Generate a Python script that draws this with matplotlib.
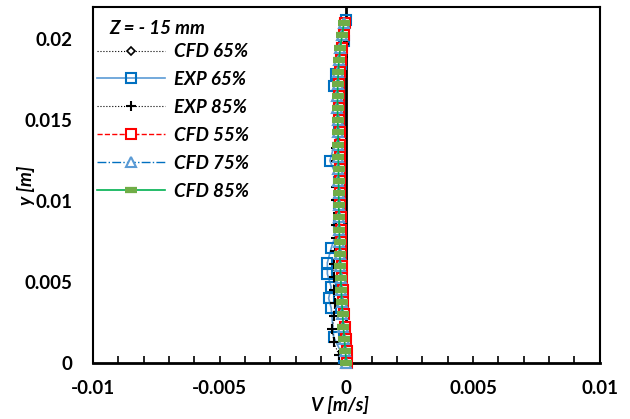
import matplotlib
matplotlib.use("Agg")
import matplotlib.pyplot as plt
from matplotlib.ticker import MultipleLocator, FixedLocator

# ---- data ----
y_cfd = [0.0, 0.00075, 0.0015, 0.00225, 0.003, 0.00375, 0.0045, 0.00525, 0.006, 0.00675,
         0.0075, 0.00825, 0.009, 0.00975, 0.0105, 0.01125, 0.012, 0.01275, 0.0135, 0.01425,
         0.015, 0.01575, 0.0165, 0.01725, 0.018, 0.01875, 0.0195, 0.02025, 0.021]
v_cfd65 = [0.0, -0.00004, -0.00008, -0.00012, -0.00015, -0.00018, -0.0002, -0.00022, -0.00024, -0.00026,
           -0.00027, -0.00028, -0.00029, -0.0003, -0.0003, -0.00031, -0.00031, -0.00032, -0.00032, -0.00033,
           -0.00034, -0.00035, -0.00035, -0.00034, -0.00032, -0.00029, -0.00024, -0.00017, -0.0001]
v_cfd55 = [0.00004, 0.00002, -0.00002, -0.00006, -0.00009, -0.00012, -0.00014, -0.00016, -0.00018, -0.0002,
           -0.00021, -0.00022, -0.00023, -0.00024, -0.00024, -0.00025, -0.00025, -0.00026, -0.00026, -0.00027,
           -0.00028, -0.00029, -0.00029, -0.00028, -0.00026, -0.00023, -0.00018, -0.00011, -0.00004]
v_cfd75 = [0.0, -0.00005, -0.00009, -0.00013, -0.00016, -0.00019, -0.00021, -0.00023, -0.00025, -0.00027,
           -0.00028, -0.00029, -0.0003, -0.00031, -0.00031, -0.00032, -0.00032, -0.00033, -0.00033, -0.00034,
           -0.00035, -0.00036, -0.00036, -0.00035, -0.00033, -0.0003, -0.00025, -0.00018, -0.00011]
v_cfd85 = [0.0, -0.00004, -0.00008, -0.00012, -0.00015, -0.00018, -0.0002, -0.00022, -0.00024, -0.00026,
           -0.00027, -0.00028, -0.00029, -0.0003, -0.0003, -0.00031, -0.00031, -0.00032, -0.00032, -0.00033,
           -0.00034, -0.00035, -0.00035, -0.00034, -0.00032, -0.00029, -0.00024, -0.00017, -0.0001]

y_exp65 = [0.0003, 0.0016, 0.0034, 0.0040, 0.0047, 0.0055, 0.0062, 0.0071, 0.0085, 0.0099,
           0.0112, 0.0125, 0.0145, 0.0158, 0.0171, 0.01785, 0.0185, 0.0199, 0.0212]
v_exp65 = [-0.0001, -0.0005, -0.0006, -0.0007, -0.0006, -0.00075, -0.00075, -0.0006, -0.0003, -0.0003,
           -0.0003, -0.00065, -0.0003, -0.0003, -0.0005, -0.0004, -0.0002, -0.0001, 0.0]

y_exp85 = [0.0005, 0.0013, 0.0021, 0.0029, 0.0037, 0.0045, 0.0053, 0.0061, 0.0069, 0.0077,
           0.0085, 0.0093, 0.0101, 0.0109, 0.0117, 0.0125, 0.0133, 0.0141, 0.0149, 0.0157,
           0.0165, 0.0173, 0.0181, 0.0189, 0.0197, 0.0205]
v_exp85 = [-0.0003, -0.0005, -0.00055, -0.0005, -0.00045, -0.0005, -0.0005, -0.0005, -0.00045, -0.0004,
           -0.0004, -0.00035, -0.0004, -0.0004, -0.00035, -0.0004, -0.0004, -0.00035, -0.0003, -0.0003,
           -0.00025, -0.00025, -0.0002, -0.00015, -0.0001, -0.00005]

x_ticks = [-0.01, -0.005, 0, 0.005, 0.01]
x_tick_labels = ["-0.01", "-0.005", "0", "0.005", "0.01"]
y_ticks = [0, 0.005, 0.01, 0.015, 0.02]
y_tick_labels = ["0", "0.005", "0.01", "0.015", "0.02"]

# ---- plot ----
FONT = "Lato"
FS = 13.5
plt.rcParams['font.family'] = [FONT, 'DejaVu Sans']

fig = plt.figure(figsize=(6.30, 4.19), dpi=100)
ax = fig.add_axes([0.1476, 0.1337, 0.952 - 0.1476, 0.983 - 0.1337])

ax.plot(v_cfd65, y_cfd, color='black', linestyle=':', linewidth=0.8, marker='D',
        markersize=4.5, markerfacecolor='white', markeredgecolor='black', markeredgewidth=1.2,
        label='CFD 65%', clip_on=False, zorder=3)
ax.plot(v_exp65, y_exp65, color='#5B9BD5', linestyle='-', linewidth=1.2, marker='s',
        markersize=7.5, markerfacecolor='none', markeredgecolor='#0070C0', markeredgewidth=1.5,
        label='EXP 65%', clip_on=False, zorder=3)
ax.plot(v_exp85, y_exp85, color='black', linestyle=':', linewidth=0.8, marker='+',
        markersize=7, markeredgewidth=1.5, markeredgecolor='black',
        label='EXP 85%', clip_on=False, zorder=3)
ax.plot(v_cfd55, y_cfd, color='#FF0000', linestyle='--', linewidth=1.0, marker='s',
        markersize=7.5, markerfacecolor='white', markeredgecolor='#FF0000', markeredgewidth=1.5,
        label='CFD 55%', clip_on=False, zorder=3)
ax.plot(v_cfd75, y_cfd, color='#0070C0', linestyle='-.', linewidth=1.0, marker='^',
        markersize=6.5, markerfacecolor='white', markeredgecolor='#5B9BD5', markeredgewidth=1.5,
        label='CFD 75%', clip_on=False, zorder=3)
ax.plot(v_cfd85, y_cfd, color='#00B050', linestyle='-', linewidth=1.2, marker='_',
        markersize=9, markeredgecolor='#70AD47', markeredgewidth=4.5,
        label='CFD 85%', clip_on=False, zorder=3)

# vertical axis line at x = 0
ax.axvline(0, color='black', linewidth=2.0, zorder=2)

ax.set_xlim(-0.01, 0.01)
ax.set_ylim(0, 0.022)
ax.xaxis.set_major_locator(FixedLocator(x_ticks))
ax.set_xticklabels(x_tick_labels)
ax.xaxis.set_minor_locator(MultipleLocator(0.001))
ax.yaxis.set_major_locator(FixedLocator(y_ticks))
ax.set_yticklabels(y_tick_labels)

ax.tick_params(axis='x', which='both', direction='in', length=5, width=1.2, top=False,
               labelsize=FS, pad=12)
ax.tick_params(axis='y', which='both', length=0, labelsize=FS, pad=15)
for lab in ax.get_xticklabels() + ax.get_yticklabels():
    lab.set_fontweight('bold')

for side in ['left', 'right', 'top']:
    ax.spines[side].set_linewidth(1.5)
ax.spines['bottom'].set_linewidth(2.0)

ax.set_xlabel('V [m/s]', fontsize=FS, fontweight='bold', fontstyle='italic')
ax.set_ylabel('y [m]', fontsize=FS, fontweight='bold', fontstyle='italic')
ax.xaxis.set_label_coords(0.487, -0.093)
ax.yaxis.set_label_coords(-0.114, 0.5)

ax.text(0.033, 0.94, 'Z = - 15 mm', transform=ax.transAxes, ha='left', va='center',
        fontsize=FS, fontweight='bold', fontstyle='italic')

leg = ax.legend(loc='upper left', bbox_to_anchor=(0.008, 0.899), frameon=False,
                handlelength=3.63, handletextpad=0.45, labelspacing=0.585,
                borderaxespad=0.0, borderpad=0.0,
                prop={'family': FONT, 'weight': 'bold', 'style': 'italic', 'size': FS})

fig.savefig('out.png', dpi=100)
